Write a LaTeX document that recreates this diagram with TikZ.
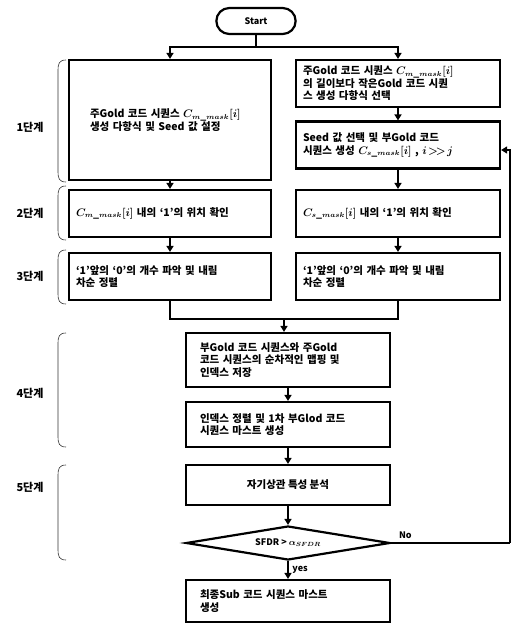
\documentclass[tikz,border=0pt]{standalone}
\usepackage{fontspec}
\setmainfont{Noto Sans CJK KR}
\usetikzlibrary{arrows.meta,positioning,shapes.geometric,shapes.misc,calc}

\tikzset{
  procbox/.style={draw,line width=2.2pt,font=\bfseries\boldmath\fontsize{10.5}{12.5}\selectfont,
    align=left,inner xsep=7pt,minimum height=47pt},
  termbox/.style={draw,line width=2.2pt,rounded rectangle,font=\bfseries\small,
    minimum width=86pt,minimum height=26pt},
  decbox/.style={draw,line width=2.2pt,diamond,aspect=6,inner sep=1pt,
    font=\bfseries\boldmath\small,minimum width=204pt,minimum height=34pt},
  stagelbl/.style={font=\bfseries\fontsize{11}{13}\selectfont},
  flow/.style={line width=2.2pt,-{Triangle[length=6pt,width=7pt]}},
  link/.style={line width=2.2pt},
  stagebrace/.style={line width=0.6pt,black!80}
}
\newcommand{\cmask}[1]{$C_{#1\_mask}[i]$}

\begin{document}
\begin{tikzpicture}[x=1pt,y=-1pt]
  \useasboundingbox (0,0) rectangle (513,632);

  % start and first stage
  \node[termbox] (start) at (256,21) {Start};
  \node[procbox,minimum width=202pt,minimum height=120pt,text width=160pt] (gen1) at (170,120)
    {주Gold 코드 시퀀스 \cmask{m}\\생성 다항식 및 Seed 값 설정};
  \node[procbox,minimum width=204pt,text width=190pt] (sel1) at (398,83.5)
    {주Gold 코드 시퀀스 \cmask{m}\\의 길이보다 작은Gold 코드 시퀀\\스 생성 다항식 선택};
  \node[procbox,minimum width=204pt,text width=190pt] (seed) at (398,145)
    {Seed 값 선택 및 부Gold 코드\\시퀀스 생성 \cmask{s} , $i\!>\!>\!j$};

  % second and third stage
  \node[procbox,minimum width=202pt,text width=188pt] (pos1) at (170,213.5)
    {\cmask{m} 내의 ‘1’의 위치 확인};
  \node[procbox,minimum width=204pt,text width=190pt] (pos2) at (398,213.5)
    {\cmask{s} 내의 ‘1’의 위치 확인};
  \node[procbox,minimum width=202pt,text width=188pt] (cnt1) at (170,276.5)
    {‘1’앞의 ‘0’의 개수 파악 및 내림\\차순 정렬};
  \node[procbox,minimum width=204pt,text width=190pt] (cnt2) at (398,276.5)
    {‘1’앞의 ‘0’의 개수 파악 및 내림\\차순 정렬};

  % fourth and fifth stage
  \node[procbox,minimum width=204pt,minimum height=54pt,text width=176pt] (map) at (288,360)
    {부Gold 코드 시퀀스와 주Gold\\코드 시퀀스의 순차적인 맵핑 및\\인덱스 저장};
  \node[procbox,minimum width=204pt,minimum height=45pt,text width=176pt] (sort) at (288,424.5)
    {인덱스 정렬 및 1차 부Glod 코드\\시퀀스 마스트 생성};
  \node[procbox,minimum width=204pt,minimum height=40pt,align=center] (auto) at (288,485)
    {자기상관 특성 분석};
  \node[decbox] (test) at (288,543) {SFDR > $\alpha_{SFDR}$};
  \node[procbox,minimum width=204pt,minimum height=42pt,text width=176pt] (final) at (288,601)
    {최종Sub 코드 시퀀스 마스트\\생성};

  % connectors
  \coordinate (split) at ($(start.south)+(0,12)$);
  \draw[link] (start.south) -- (split);
  \draw[flow] (split) -| (gen1.north);
  \draw[flow] (split) -| (sel1.north);
  \draw[flow] (sel1) -- (seed);
  \draw[flow] (gen1) -- (pos1);
  \draw[flow] (seed) -- (pos2);
  \draw[flow] (pos1) -- (cnt1);
  \draw[flow] (pos2) -- (cnt2);
  \coordinate (join) at ($(cnt1.south)!0.5!(cnt2.south)+(0,18)$);
  \draw[link] (cnt1.south) |- (join) -| (cnt2.south);
  \draw[flow] (join) -- (join |- map.north);
  \draw[flow] (map) -- (sort);
  \draw[flow] (sort) -- (auto);
  \draw[flow] (auto) -- (test);
  \draw[flow] (test) -- node[right,font=\bfseries\small]{yes} (final);
  \coordinate (back) at (510,543);
  \draw[line width=1.4pt] (test.east) -- node[above,pos=0.12,font=\bfseries\small]{No} (back);
  \draw[flow,line width=1.4pt] (back) |- (seed.east |- 0,150);

  % stage labels and braces
  \foreach \name/\top/\bot/\mid [count=\k] in {s1/60/182/127, s2/186/240/213, s3/250/304/276,
                                               s4/333/447/393, s5/465/560/487} {
    \node[stagelbl] (\name) at (30,\mid) {\k 단계};
    \draw[stagebrace] (66,\top) .. controls (59,\top) and (58,\top+4) .. (58,\top+10)
      -- (58,\bot-10) .. controls (58,\bot-4) and (59,\bot) .. (66,\bot);
  }
\end{tikzpicture}
\end{document}
